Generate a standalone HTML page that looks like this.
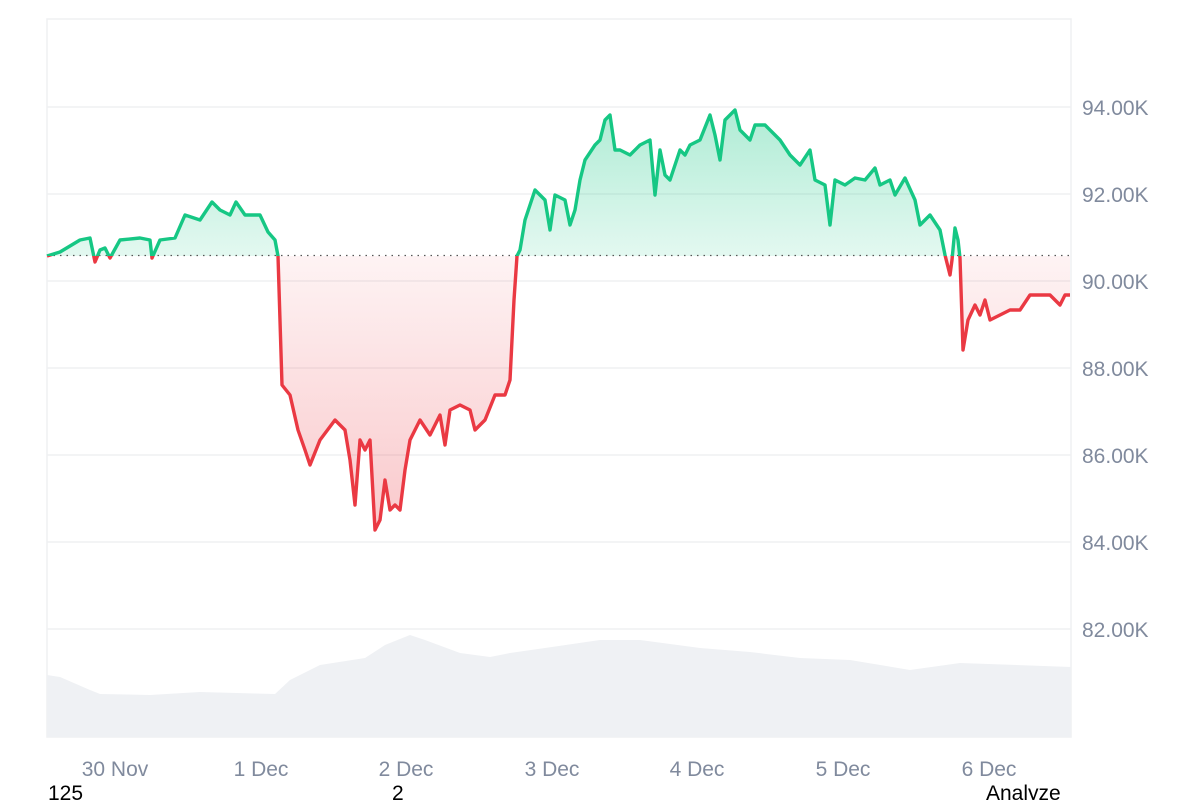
<!DOCTYPE html>
<html><head><style>
body{margin:0;background:#fff;width:1200px;height:800px;overflow:hidden;font-family:"Liberation Sans",sans-serif}
</style></head><body>
<svg width="1200" height="800" xmlns="http://www.w3.org/2000/svg">
<defs>
<linearGradient id="gg" x1="0" y1="105" x2="0" y2="256" gradientUnits="userSpaceOnUse">
<stop offset="0" stop-color="#16c784" stop-opacity="0.35"/><stop offset="1" stop-color="#16c784" stop-opacity="0.12"/></linearGradient>
<linearGradient id="rg" x1="0" y1="256" x2="0" y2="535" gradientUnits="userSpaceOnUse">
<stop offset="0" stop-color="#ea3943" stop-opacity="0.06"/><stop offset="1" stop-color="#ea3943" stop-opacity="0.28"/></linearGradient>
<clipPath id="ca"><rect x="0" y="0" width="1200" height="256"/></clipPath>
<clipPath id="cb"><rect x="0" y="256" width="1200" height="544"/></clipPath>
<path id="fillp" d="M47,256 L60,252 L80,240 L90,238 L95,262 L100,250 L105,248 L110,258 L120,240 L140,238 L150,240 L152,258 L160,240 L175,238 L185,215 L200,220 L212,202 L220,210 L230,215 L236,202 L245,215 L260,215 L268,232 L275,240 L278,256 L282,385 L290,395 L298,430 L305,450 L310,465 L320,440 L335,420 L345,430 L350,460 L355,505 L360,440 L365,450 L370,440 L375,530 L380,520 L385,480 L390,510 L395,505 L400,510 L405,470 L410,440 L420,420 L430,435 L440,415 L445,445 L450,410 L460,405 L470,410 L475,430 L485,420 L495,395 L505,395 L510,380 L514,300 L517,256 L520,250 L525,220 L535,190 L545,200 L550,230 L555,195 L565,200 L570,225 L575,210 L580,180 L585,160 L595,145 L600,140 L605,120 L610,115 L615,150 L620,150 L630,155 L640,145 L650,140 L655,195 L660,150 L665,175 L670,180 L680,150 L685,155 L690,145 L700,140 L710,115 L715,135 L720,160 L725,120 L735,110 L740,130 L750,140 L755,125 L765,125 L775,135 L780,140 L790,155 L800,165 L810,150 L815,180 L825,185 L830,225 L835,180 L845,185 L855,178 L865,180 L875,168 L880,185 L890,180 L895,195 L905,178 L915,200 L920,225 L930,215 L940,230 L945,255 L950,275 L952,260 L955,228 L958,240 L960,258 L963,350 L968,320 L975,305 L980,315 L985,300 L990,320 L1000,315 L1010,310 L1020,310 L1030,295 L1040,295 L1050,295 L1060,305 L1065,295 L1070,295"/>
<path id="area" d="M47,256 L60,252 L80,240 L90,238 L95,262 L100,250 L105,248 L110,258 L120,240 L140,238 L150,240 L152,258 L160,240 L175,238 L185,215 L200,220 L212,202 L220,210 L230,215 L236,202 L245,215 L260,215 L268,232 L275,240 L278,256 L282,385 L290,395 L298,430 L305,450 L310,465 L320,440 L335,420 L345,430 L350,460 L355,505 L360,440 L365,450 L370,440 L375,530 L380,520 L385,480 L390,510 L395,505 L400,510 L405,470 L410,440 L420,420 L430,435 L440,415 L445,445 L450,410 L460,405 L470,410 L475,430 L485,420 L495,395 L505,395 L510,380 L514,300 L517,256 L520,250 L525,220 L535,190 L545,200 L550,230 L555,195 L565,200 L570,225 L575,210 L580,180 L585,160 L595,145 L600,140 L605,120 L610,115 L615,150 L620,150 L630,155 L640,145 L650,140 L655,195 L660,150 L665,175 L670,180 L680,150 L685,155 L690,145 L700,140 L710,115 L715,135 L720,160 L725,120 L735,110 L740,130 L750,140 L755,125 L765,125 L775,135 L780,140 L790,155 L800,165 L810,150 L815,180 L825,185 L830,225 L835,180 L845,185 L855,178 L865,180 L875,168 L880,185 L890,180 L895,195 L905,178 L915,200 L920,225 L930,215 L940,230 L945,255 L950,275 L952,260 L955,228 L958,240 L960,258 L963,350 L968,320 L975,305 L980,315 L985,300 L990,320 L1000,315 L1010,310 L1020,310 L1030,295 L1040,295 L1050,295 L1060,305 L1065,295 L1070,295 L1070,256 L47,256 Z"/>
</defs>
<rect x="47" y="19" width="1024" height="718" fill="none" stroke="#eff0f2" stroke-width="1.5"/>
<g stroke="#eff0f2" stroke-width="1.5">
<line x1="47" x2="1071" y1="107" y2="107"/><line x1="47" x2="1071" y1="194" y2="194"/><line x1="47" x2="1071" y1="281" y2="281"/><line x1="47" x2="1071" y1="368" y2="368"/><line x1="47" x2="1071" y1="455" y2="455"/><line x1="47" x2="1071" y1="542" y2="542"/><line x1="47" x2="1071" y1="629" y2="629"/>
</g>
<path fill="#eff1f4" d="M47,675 L60,677 L90,690 L100,694 L150,695 L200,692 L275,694 L290,680 L320,665 L365,658 L385,645 L410,635 L425,640 L460,653 L490,657 L510,653 L545,648 L600,640 L640,640 L700,648 L750,652 L800,658 L850,660 L910,670 L960,663 L1071,667 L1071,737 L47,737 Z"/>
<use href="#area" fill="url(#gg)" clip-path="url(#ca)"/>
<use href="#area" fill="url(#rg)" clip-path="url(#cb)"/>
<line x1="47" x2="1071" y1="255.5" y2="255.5" stroke="#555" stroke-width="1.2" stroke-dasharray="1.5 5"/>
<use href="#fillp" fill="none" stroke="#16c784" stroke-width="3.4" stroke-linejoin="round" clip-path="url(#ca)"/>
<use href="#fillp" fill="none" stroke="#ea3943" stroke-width="3.4" stroke-linejoin="round" clip-path="url(#cb)"/>
<g fill="#808a9d" font-size="21" font-family="Liberation Sans,sans-serif">
<text x="1082" y="115">94.00K</text><text x="1082" y="202">92.00K</text><text x="1082" y="289">90.00K</text><text x="1082" y="376">88.00K</text><text x="1082" y="463">86.00K</text><text x="1082" y="550">84.00K</text><text x="1082" y="637">82.00K</text>
<text x="115" y="776" text-anchor="middle">30 Nov</text><text x="261" y="776" text-anchor="middle">1 Dec</text><text x="406" y="776" text-anchor="middle">2 Dec</text><text x="552" y="776" text-anchor="middle">3 Dec</text><text x="697" y="776" text-anchor="middle">4 Dec</text><text x="843" y="776" text-anchor="middle">5 Dec</text><text x="989" y="776" text-anchor="middle">6 Dec</text>
</g>
<g fill="#000" font-size="21" font-family="Liberation Sans,sans-serif">
<text x="48" y="800">125</text><text x="392" y="800">2</text><text x="986" y="800">Analyze</text>
</g>
</svg>
</body></html>
